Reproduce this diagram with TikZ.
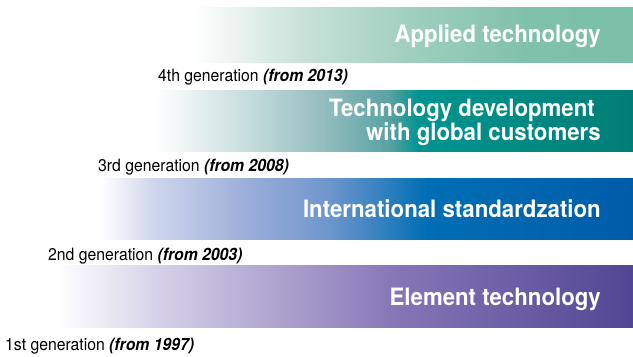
\documentclass[tikz,border=0pt]{standalone}
\usepackage{fontspec}
\setmainfont[FakeStretch=0.93]{TeX Gyre Heros}
\usepackage{tikz}
\usepackage{xcolor}

\definecolor{appliedend}{RGB}{122,191,168}
\definecolor{globalend}{RGB}{0,126,117}
\definecolor{standardend}{RGB}{0,92,168}
\definecolor{elementend}{RGB}{82,70,148}

% stops: bar bounding box is 25bp..75bp of the shading
\pgfdeclarehorizontalshading{appliedshade}{100bp}{color(0bp)=(white); color(26bp)=(white);
  color(37bp)=(rgb,255:red,205;green,228;blue,220); color(50bp)=(rgb,255:red,160;green,207;blue,191);
  color(63bp)=(rgb,255:red,128;green,193;blue,172); color(75bp)=(appliedend); color(100bp)=(appliedend)}
\pgfdeclarehorizontalshading{globalshade}{100bp}{color(0bp)=(white); color(26bp)=(white);
  color(33bp)=(rgb,255:red,215;green,230;blue,230); color(43bp)=(rgb,255:red,150;green,190;blue,192);
  color(50bp)=(rgb,255:red,90;green,162;blue,162); color(53bp)=(rgb,255:red,0;green,148;blue,144);
  color(75bp)=(globalend); color(100bp)=(globalend)}
\pgfdeclarehorizontalshading{standardshade}{100bp}{color(0bp)=(white); color(26bp)=(white);
  color(31bp)=(rgb,255:red,205;green,213;blue,236); color(40bp)=(rgb,255:red,152;green,172;blue,216);
  color(47bp)=(rgb,255:red,110;green,150;blue,205); color(56bp)=(rgb,255:red,0;green,110;blue,180);
  color(75bp)=(standardend); color(100bp)=(standardend)}
\pgfdeclarehorizontalshading{elementshade}{100bp}{color(0bp)=(white); color(26bp)=(white);
  color(35bp)=(rgb,255:red,212;green,207;blue,231); color(45bp)=(rgb,255:red,172;green,162;blue,206);
  color(55bp)=(rgb,255:red,132;green,118;blue,182); color(75bp)=(elementend); color(100bp)=(elementend)}

\tikzset{
  barlabel/.style={anchor=base east,text=white,font=\bfseries\fontsize{24}{24}\selectfont,inner sep=0pt,align=right},
  genlabel/.style={anchor=base west,text=black,font=\fontsize{17}{20}\selectfont,inner sep=0pt}
}

\begin{document}
\begin{tikzpicture}[x=1bp,y=-1bp]
\useasboundingbox (0,0) rectangle (633,356);

% bars
\shade[shading=appliedshade] (185,7) rectangle (633,62);
\shade[shading=globalshade] (145,90) rectangle (633,151);
\shade[shading=standardshade] (90,178) rectangle (633,239);
\shade[shading=elementshade] (45,265) rectangle (633,327);

\node (applied) at (601,42) [barlabel] {Applied technology};
\node (global) at (601,140) [barlabel] {Technology development\hspace*{6bp}\\with global customers};
\node (standard) at (601,217) [barlabel] {International standardzation};
\node (element) at (601,305) [barlabel] {Element technology};

\node (gen4) at (158,81) [genlabel] {4th generation {\bfseries\itshape (from 2013)}};
\node (gen3) at (98,171) [genlabel] {3rd generation {\bfseries\itshape (from 2008)}};
\node (gen2) at (48,260) [genlabel] {2nd generation {\bfseries\itshape (from 2003)}};
\node (gen1) at (5,350) [genlabel] {1st generation {\bfseries\itshape (from 1997)}};

\end{tikzpicture}
\end{document}
